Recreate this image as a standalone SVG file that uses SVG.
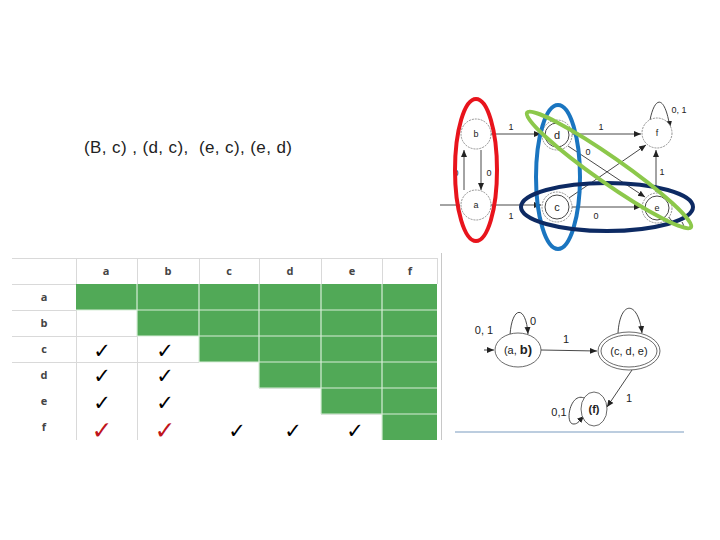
<svg xmlns="http://www.w3.org/2000/svg" width="720" height="540" viewBox="0 0 720 540">
<defs>
<marker id="ah" markerWidth="8" markerHeight="8" refX="7" refY="4" orient="auto" markerUnits="userSpaceOnUse"><path d="M0,1 L7,4 L0,7 Z" fill="#222"/></marker>
<style>
.t{font-family:"Liberation Sans",Arial,sans-serif;fill:#222}
.hd{font-family:"Open Sans","Liberation Sans",sans-serif;font-weight:bold;font-size:11px;fill:#444;text-anchor:middle}
.ck{font-family:"DejaVu Sans",sans-serif;font-size:21px;fill:#000;text-anchor:middle}
.ckr{font-family:"DejaVu Sans",sans-serif;font-size:25px;fill:#c0141c;text-anchor:middle}
.g{fill:#51a957}
.st{fill:#fff;stroke:#777;stroke-width:0.8;stroke-dasharray:2 1}
.ed{fill:none;stroke:#333;stroke-width:0.9}
.lb{font-family:"Liberation Sans",Arial,sans-serif;font-size:9px;fill:#222;text-anchor:middle}
.lb2{font-family:"Liberation Sans",Arial,sans-serif;font-size:11px;fill:#222;text-anchor:middle}
</style>
</defs>
<rect width="720" height="540" fill="#fff"/>
<text class="t" x="84" y="153" font-size="17" xml:space="preserve" textLength="208" lengthAdjust="spacing">(B, c) , (d, c),  (e, c), (e, d)</text>

<g id="table">
<g id="green-cells">
<rect class="g" x="76" y="284" width="361" height="26"/>
<rect class="g" x="137" y="310" width="300" height="26"/>
<rect class="g" x="199" y="336" width="238" height="26"/>
<rect class="g" x="259" y="362" width="178" height="26"/>
<rect class="g" x="321" y="388" width="116" height="26"/>
<rect class="g" x="382" y="414" width="55" height="26"/>
</g>
<g id="grid" stroke="#d9d9d9" stroke-width="1">
<line x1="12" y1="258.5" x2="437" y2="258.5"/>
<line x1="12" y1="284.5" x2="76" y2="284.5"/>
<line x1="12" y1="310.5" x2="76" y2="310.5"/>
<line x1="12" y1="336.5" x2="137" y2="336.5"/>
<line x1="12" y1="362.5" x2="199" y2="362.5"/>
<line x1="76.5" y1="258" x2="76.5" y2="284"/>
<line x1="76.5" y1="310" x2="76.5" y2="440"/>
<line x1="137.5" y1="258" x2="137.5" y2="284"/>
<line x1="137.5" y1="336" x2="137.5" y2="440"/>
<line x1="199.5" y1="258" x2="199.5" y2="284"/>
<line x1="259.5" y1="258" x2="259.5" y2="284"/>
<line x1="321.5" y1="258" x2="321.5" y2="284"/>
<line x1="382.5" y1="258" x2="382.5" y2="284"/>
<line x1="437.5" y1="258" x2="437.5" y2="284"/>
<line x1="259" y1="388.5" x2="321" y2="388.5"/>
<line x1="321" y1="414.5" x2="382" y2="414.5"/>
</g>
<g id="green-lines" stroke="#d8eed8" stroke-width="1.2">
<line x1="76" y1="310" x2="437" y2="310"/>
<line x1="137" y1="336" x2="437" y2="336"/>
<line x1="199" y1="362" x2="437" y2="362"/>
<line x1="259" y1="388" x2="437" y2="388"/>
<line x1="321" y1="414" x2="437" y2="414"/>
<line x1="137" y1="284" x2="137" y2="336"/>
<line x1="199" y1="284" x2="199" y2="362"/>
<line x1="259" y1="284" x2="259" y2="388"/>
<line x1="321" y1="284" x2="321" y2="414"/>
<line x1="382" y1="284" x2="382" y2="440"/>
</g>
<g id="headers">
<text class="hd" x="106" y="275">a</text>
<text class="hd" x="168" y="275">b</text>
<text class="hd" x="229" y="275">c</text>
<text class="hd" x="290" y="275">d</text>
<text class="hd" x="352" y="275">e</text>
<text class="hd" x="410" y="275">f</text>
<text class="hd" x="44" y="301">a</text>
<text class="hd" x="44" y="327">b</text>
<text class="hd" x="44" y="353">c</text>
<text class="hd" x="44" y="379">d</text>
<text class="hd" x="44" y="405">e</text>
<text class="hd" x="44" y="431">f</text>
</g>
<g id="checks">
<text class="ck" x="102" y="358">✓</text>
<text class="ck" x="165" y="358">✓</text>
<text class="ck" x="102" y="383">✓</text>
<text class="ck" x="165" y="383">✓</text>
<text class="ck" x="102" y="410">✓</text>
<text class="ck" x="165" y="410">✓</text>
<text class="ckr" x="102" y="439">✓</text>
<text class="ckr" x="165" y="439">✓</text>
<text class="ck" x="237" y="438">✓</text>
<text class="ck" x="293" y="438">✓</text>
<text class="ck" x="355" y="438">✓</text>
</g>
</g>
<line x1="441.5" y1="253" x2="441.5" y2="440" stroke="#c8c8c8" stroke-width="1"/>

<g id="top-connectors">
<line class="ed" x1="464" y1="190" x2="464" y2="150" marker-end="url(#ah)"/>
<line class="ed" x1="481" y1="150" x2="481" y2="190" marker-end="url(#ah)"/>
<line class="ed" x1="440" y1="205" x2="460" y2="205"/>
<line class="ed" x1="490" y1="134" x2="541" y2="134" marker-end="url(#ah)"/>
<line class="ed" x1="490" y1="205" x2="541" y2="205" marker-end="url(#ah)"/>
<line class="ed" x1="572" y1="134" x2="641" y2="134" marker-end="url(#ah)"/>
<line class="ed" x1="572" y1="207" x2="641" y2="207" marker-end="url(#ah)"/>
<line class="ed" x1="568" y1="146" x2="645" y2="197" marker-end="url(#ah)"/>
<line class="ed" x1="569" y1="198" x2="646" y2="145" marker-end="url(#ah)"/>
<line class="ed" x1="656" y1="192" x2="656" y2="150" marker-end="url(#ah)"/>
<path class="ed" d="M650,120 C655,95 665,95 670,128" marker-end="url(#ah)"/>
<path class="ed" d="M668,216 C676,228 688,232 682,222"/>
</g>
<g id="top-labels">
<text class="lb" x="456" y="176">0</text>
<text class="lb" x="489" y="176">0</text>
<text class="lb" x="511" y="130">1</text>
<text class="lb" x="511" y="219">1</text>
<text class="lb" x="601" y="130">1</text>
<text class="lb" x="596" y="219">0</text>
<text class="lb" x="588" y="155">0</text>
<text class="lb" x="662" y="175">1</text>
<text class="lb" x="679" y="113">0, 1</text>
</g>
<g id="node-b"><circle class="st" cx="476" cy="134" r="15"/><text class="lb" x="476" y="137">b</text></g>
<g id="node-a"><circle class="st" cx="476" cy="205" r="15"/><text class="lb" x="476" y="208">a</text></g>
<g id="node-d"><circle class="st" cx="557" cy="135" r="15"/><circle class="ed" cx="557" cy="135" r="12" stroke="#888" stroke-width="0.7"/><text class="lb2" x="557" y="139">d</text></g>
<g id="node-c"><circle class="st" cx="557" cy="207" r="15"/><circle class="ed" cx="557" cy="207" r="12" stroke="#888" stroke-width="0.7"/><text class="lb2" x="557" y="211">c</text></g>
<g id="node-f"><circle class="st" cx="657" cy="133" r="15"/><text class="lb" x="657" y="136">f</text></g>
<g id="node-e"><circle class="st" cx="657" cy="208" r="15"/><circle class="ed" cx="657" cy="208" r="12" stroke="#888" stroke-width="0.7"/><text class="lb" x="657" y="211">e</text></g>

<g id="groups" fill="none">
<ellipse cx="476" cy="170" rx="21" ry="71" stroke="#e8141c" stroke-width="4"/>
<ellipse cx="558" cy="177" rx="22" ry="72" stroke="#1a75c0" stroke-width="4"/>
<ellipse cx="607" cy="207" rx="86" ry="24" stroke="#0d2a63" stroke-width="4"/>
<ellipse cx="609" cy="170" rx="100" ry="13" transform="rotate(35 609 170)" stroke="#8cc84b" stroke-width="4"/>
</g>

<g id="bottom-connectors">
<path class="ed" d="M510,335 C512,305 526,305 528,334" marker-end="url(#ah)"/>
<line class="ed" x1="484" y1="350" x2="494" y2="350" marker-end="url(#ah)"/>
<line class="ed" x1="541" y1="350" x2="597" y2="351" marker-end="url(#ah)"/>
<path class="ed" d="M618,333 C620,300 638,300 642,333" marker-end="url(#ah)"/>
<line class="ed" x1="632" y1="370" x2="607" y2="407" marker-end="url(#ah)"/>
<path class="ed" d="M584,398 C570,392 564,425 574,424 C578,424 580,420 584,416" marker-end="url(#ah)"/>
</g>
<g id="bottom-labels">
<text class="lb2" x="484" y="334">0, 1</text>
<text class="lb2" x="533" y="325">0</text>
<text class="lb2" x="566" y="343">1</text>
<text class="lb2" x="629" y="402">1</text>
<text class="lb2" x="559" y="416">0,1</text>
</g>
<g id="node-ab"><ellipse cx="518" cy="350" rx="23" ry="17" fill="#fff" stroke="#444" stroke-width="0.8"/><text class="lb2" x="518" y="354">(a,  <tspan font-weight="bold" font-size="13">b)</tspan></text></g>
<g id="node-cde"><ellipse cx="629" cy="351" rx="31" ry="19" fill="#fff" stroke="#444" stroke-width="0.8"/><ellipse cx="629" cy="351" rx="28" ry="16" fill="none" stroke="#444" stroke-width="0.8"/><text class="lb2" x="629" y="355">(c, d, e)</text></g>
<g id="node-fnew"><ellipse cx="594" cy="409" rx="13" ry="17" fill="#fff" stroke="#444" stroke-width="0.8"/><text class="lb2" x="594" y="413" font-weight="bold">(f)</text></g>
<line x1="455" y1="432" x2="684" y2="432" stroke="#7a9cc0" stroke-width="1.2"/>
</svg>
